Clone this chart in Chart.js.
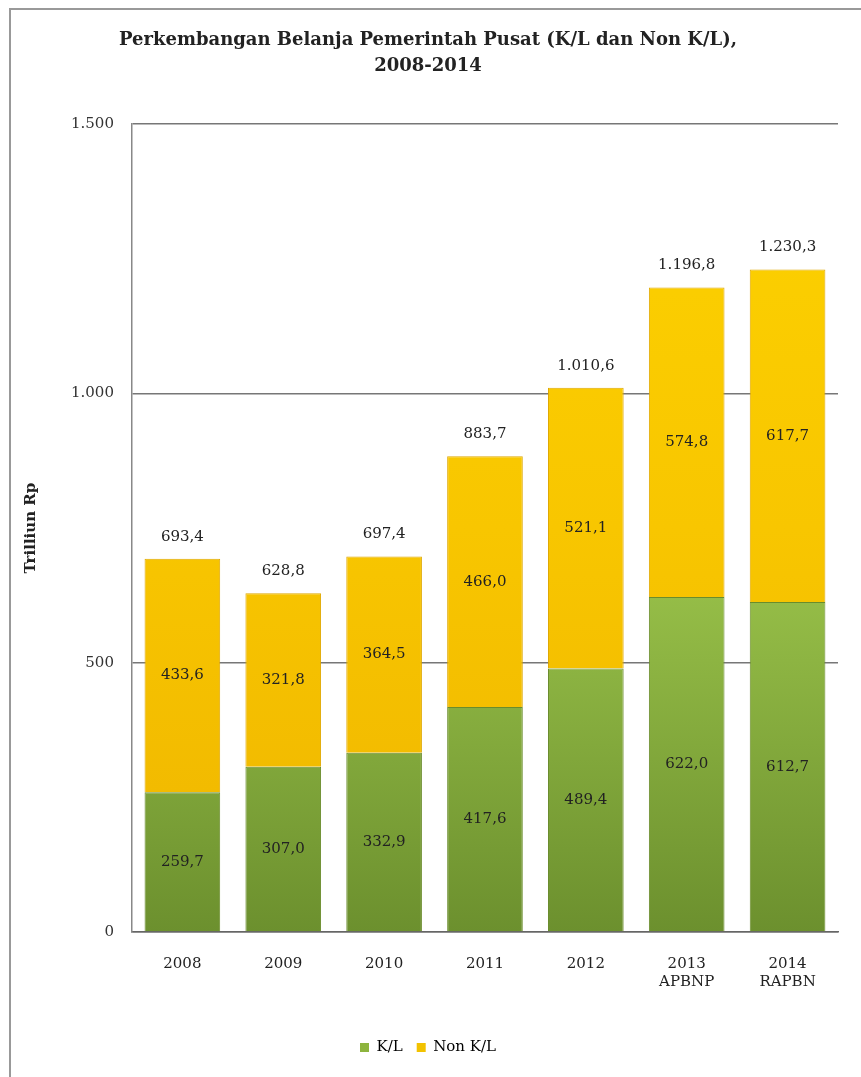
<!DOCTYPE html>
<html>
<head>
<meta charset="utf-8">
<script src="https://cdn.jsdelivr.net/npm/chart.js@4.4.0/dist/chart.umd.min.js"></script>
<style>
  body { margin: 0; background: #fff; }
  #wrap { position: relative; width: 861px; height: 1077px; }
  #frame { position: absolute; left: 9px; top: 8px; right: -5px; bottom: -5px; border: 2px solid #999; }
</style>
</head>
<body>
<div id="wrap">
  <div id="frame"></div>
  <canvas id="belanja" width="861" height="1077"></canvas>
</div>
<script>
// data (triliun Rp)
const categories = ['2008', '2009', '2010', '2011', '2012', ['2013', 'APBNP'], ['2014', 'RAPBN']];
const kl = [259.7, 307.0, 332.9, 417.6, 489.4, 622.0, 612.7];
const nonKl = [433.6, 321.8, 364.5, 466.0, 521.1, 574.8, 617.7];
const totals = [693.4, 628.8, 697.4, 883.7, 1010.6, 1196.8, 1230.3];
const yTicks = [0, 500, 1000, 1500];

const serif = "'DejaVu Serif', 'Liberation Serif', serif";

const fmt = (v, dec) => {
  const parts = v.toFixed(dec).split('.');
  parts[0] = parts[0].replace(/\B(?=(\d{3})+(?!\d))/g, '.');
  return parts.join(',');
};

const greenFill = (ctx) => {
  const area = ctx.chart.chartArea;
  if (!area) return '#8db43e';
  const g = ctx.chart.ctx.createLinearGradient(0, area.top, 0, area.bottom);
  g.addColorStop(0, '#b2d95e');
  g.addColorStop(0.45, '#a2cb4f');
  g.addColorStop(1, '#6c902e');
  return g;
};

const yellowFill = (ctx) => {
  const area = ctx.chart.chartArea;
  if (!area) return '#f6c400';
  const g = ctx.chart.ctx.createLinearGradient(0, area.top, 0, area.bottom);
  g.addColorStop(0, '#fdd200');
  g.addColorStop(0.5, '#f8c600');
  g.addColorStop(1, '#efb500');
  return g;
};

// label nilai di tengah batang dan total di atas
const valueLabels = {
  id: 'valueLabels',
  afterDatasetsDraw(chart) {
    const c = chart.ctx;
    c.save();
    c.font = '15px ' + serif;
    c.fillStyle = '#222';
    c.textAlign = 'center';
    c.textBaseline = 'middle';
    chart.data.datasets.forEach((ds, i) => {
      chart.getDatasetMeta(i).data.forEach((el, j) => {
        c.fillText(fmt(ds.data[j], 1), el.x, (el.y + el.base) / 2);
      });
    });
    const top = chart.getDatasetMeta(1).data;
    top.forEach((el, j) => {
      c.fillText(fmt(totals[j], 1), el.x, el.y - 22);
    });
    c.restore();
  }
};

new Chart(document.getElementById('belanja').getContext('2d'), {
  type: 'bar',
  data: {
    labels: categories,
    datasets: [
      {
        label: 'K/L',
        data: kl,
        backgroundColor: greenFill,
        borderColor: '#6a8c2c',
        borderWidth: 1
      },
      {
        label: 'Non K/L',
        data: nonKl,
        backgroundColor: yellowFill,
        borderColor: '#e0a800',
        borderWidth: 1
      }
    ]
  },
  options: {
    responsive: false,
    animation: false,
    datasets: { bar: { categoryPercentage: 1, barPercentage: 0.75 } },
    layout: { padding: { left: 18, right: 23, top: 0, bottom: 12 } },
    plugins: {
      tooltip: { enabled: false },
      title: {
        display: true,
        text: ['Perkembangan Belanja Pemerintah Pusat (K/L dan Non K/L),', '2008-2014'],
        font: { family: serif, size: 18, weight: 'bold', lineHeight: 1.45 },
        color: '#222',
        padding: { top: 27, bottom: 45 }
      },
      legend: {
        position: 'bottom',
        labels: {
          boxWidth: 9,
          boxHeight: 9,
          padding: 14,
          color: '#222',
          font: { family: serif, size: 15 },
          generateLabels(chart) {
            const cols = ['#8db43e', '#f2c200'];
            return chart.data.datasets.map((ds, i) => ({
              text: ds.label,
              fillStyle: cols[i],
              strokeStyle: cols[i],
              lineWidth: 0,
              datasetIndex: i
            }));
          }
        }
      }
    },
    scales: {
      x: {
        stacked: true,
        grid: { display: false },
        border: { color: '#666', width: 1.5 },
        ticks: { color: '#222', font: { family: serif, size: 15 }, padding: 15 },
        afterFit(scale) { scale.height += 20; }
      },
      y: {
        stacked: true,
        min: 0,
        max: 1500,
        afterBuildTicks(axis) {
          axis.ticks = yTicks.map(v => ({ value: v }));
        },
        grid: { color: '#777', lineWidth: 1.5, drawTicks: false },
        border: { color: '#888', width: 1.5 },
        ticks: {
          color: '#333',
          padding: 18,
          font: { family: serif, size: 15 },
          callback: (v) => fmt(v, 0)
        },
        title: {
          display: true,
          text: 'Trilliun Rp',
          color: '#222',
          font: { family: serif, size: 15, weight: 'bold' },
          padding: { bottom: 13 }
        }
      }
    }
  },
  plugins: [valueLabels]
});
</script>
</body>
</html>
